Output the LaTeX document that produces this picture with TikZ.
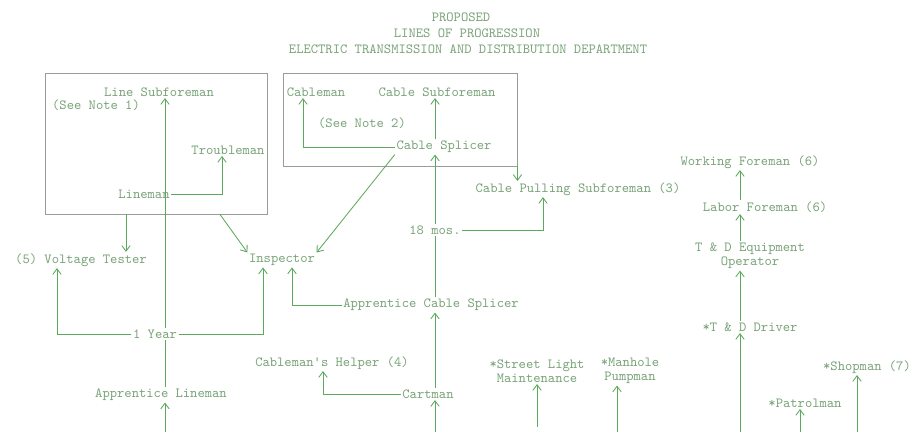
\documentclass[tikz,border=0pt]{standalone}
\usepackage{tikz}
\usetikzlibrary{
    arrows.meta,
    positioning
}
\definecolor{jobtext}{RGB}{120,162,120}
\definecolor{linkgreen}{RGB}{92,168,92}
\definecolor{boxgray}{RGB}{150,158,150}
\newcommand{\jobfont}{\fontsize{9.9}{10}\selectfont\ttfamily}

\begin{document}
\begin{tikzpicture}[x=0.025cm, y=-0.025cm,
    job/.style={font=\jobfont, text=jobtext, inner sep=1pt, align=center},
    link/.style={draw=linkgreen, line width=0.6pt},
    up/.style={link, -{Straight Barb[length=4pt,width=6pt]}},
    frame/.style={draw=boxgray, line width=0.6pt, inner sep=0pt}]

\def\px{0.025cm}  % one pixel of the chart
\useasboundingbox (0,0) rectangle (912,432);

% Heading
\node[job] (head1) at (461,17) {PROPOSED};
\node[job] (head2) at (467,33) {LINES OF PROGRESSION};
\node[job] (head3) at (468,49) {ELECTRIC TRANSMISSION AND DISTRIBUTION DEPARTMENT};

% Boxed groups
\node[frame, minimum width=5.55cm, minimum height=3.525cm] (linebox) at (156,143.5) {};
\node[frame, minimum width=5.85cm, minimum height=2.325cm] (cablebox) at (400,119.5) {};

% Line side
\node[job] (linesub)   at (159,92)  {Line Subforeman};
\node[job] (note1)     at (96,105)  {(See Note 1)};
\node[job] (troub)     at (228,150) {Troubleman};
\node[job] (lineman)   at (144,194) {Lineman};
\node[job] (volt)      at (81,260)  {(5) Voltage Tester};
\node[job] (inspector) at (282,260) {Inspector};
\node[job] (oneyear)   at (155,334) {1 Year};
\node[job] (applin)    at (161,395) {Apprentice Lineman};

% Cable side
\node[job] (cableman)  at (316,92)  {Cableman};
\node[job] (cablesub)  at (437,92)  {Cable Subforeman};
\node[job] (note2)     at (362,123) {(See Note 2)};
\node[job] (splicer)   at (444,147) {Cable Splicer};
\node[job] (pulling)   at (578,189) {Cable Pulling Subforeman (3)};
\node[job] (eighteen)  at (435,230) {18 mos.};
\node[job] (appcable)  at (431,305) {Apprentice Cable Splicer};
\node[job] (helper)    at (332,363) {Cableman's Helper (4)};
\node[job] (cartman)   at (428,394) {Cartman};

% Others
\node[job] (street)    at (537,371) {*Street Light\\Maintenance};
\node[job] (manhole)   at (630,371) {*Manhole\\Pumpman};
\node[job] (workfor)   at (750,162) {Working Foreman (6)};
\node[job] (laborfor)  at (765,207) {Labor Foreman (6)};
\node[job] (equip)     at (750,256) {T \& D Equipment\\Operator};
\node[job] (driver)    at (750,327) {*T \& D Driver};
\node[job] (patrol)    at (805,403) {*Patrolman};
\node[job] (shop)      at (867,367) {*Shopman (7)};

% Columns coming up from below the sheet
\coordinate (c1) at (165,432);
\coordinate (c2) at (435,432);
\coordinate (c3) at (537,427);
\coordinate (c4) at (617,432);
\coordinate (c5) at (740,432);
\coordinate (c6) at (800,432);
\coordinate (c7) at (857,432);

% Line progression
\draw[up] (c1) -- (c1 |- applin.south);
\draw[link] (c1 |- applin.north) -- (c1 |- oneyear.south);
\draw[up] (c1 |- oneyear.north) -- (c1 |- linesub.south);
\draw[up] (oneyear.west) -| ([xshift=-24*\px]volt.south);
\draw[up] (oneyear.east) -| ([xshift=-19*\px]inspector.south);
\draw[up] (lineman.east) -| ([xshift=-6*\px]troub.south);
\draw[up] ([xshift=-30*\px]linebox.south) -- ([xshift=45*\px]volt.north);
\draw[up] ([xshift=64*\px]linebox.south) -- (inspector.north west);

% Cable progression
\draw[up] (c2) -- (c2 |- cartman.south);
\draw[up] (c2 |- cartman.north) -- (c2 |- appcable.south);
\draw[link] (c2 |- appcable.north) -- (c2 |- eighteen.south);
\draw[up] (c2 |- eighteen.north) -- (c2 |- splicer.south);
\draw[up] (c2 |- splicer.north) -- (c2 |- cablesub.south);
\draw[up] (splicer.west) -| ([xshift=-13*\px]cableman.south);
\draw[up] (splicer.south west) -- (inspector.north east);
\draw[up] (cablebox.south east) -- (cablebox.south east |- pulling.north);
\draw[up] (eighteen.east) -| ([xshift=-35*\px]pulling.south);
\draw[up] (cartman.west) -| ([xshift=-9*\px]helper.south);
\draw[up] (appcable.west) -| ([xshift=10*\px]inspector.south);

% T & D and single steps
\draw[up] (c3) -- (c3 |- street.south);
\draw[up] (c4) -- (c4 |- manhole.south);
\draw[up] (c5) -- (c5 |- driver.south);
\draw[up] (c5 |- driver.north) -- (c5 |- equip.south);
\draw[up] (c5 |- equip.north) -- (c5 |- laborfor.south);
\draw[up] (c5 |- laborfor.north) -- (c5 |- workfor.south);
\draw[up] (c6) -- (c6 |- patrol.south);
\draw[up] (c7) -- (c7 |- shop.south);

\end{tikzpicture}
\end{document}
